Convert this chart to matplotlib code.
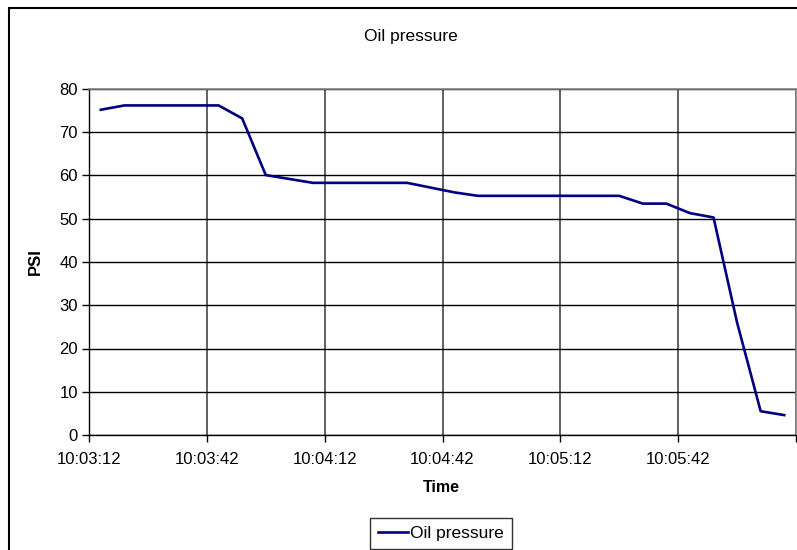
import matplotlib
matplotlib.use('Agg')
import matplotlib.pyplot as plt
from matplotlib.patches import Rectangle

# data (sample times and PSI)
times = ['10:03:15', '10:03:21', '10:03:27', '10:03:33', '10:03:39', '10:03:45',
         '10:03:51', '10:03:57', '10:04:03', '10:04:09', '10:04:15', '10:04:21',
         '10:04:27', '10:04:33', '10:04:39', '10:04:45', '10:04:51', '10:04:57',
         '10:05:03', '10:05:09', '10:05:15', '10:05:21', '10:05:27', '10:05:33',
         '10:05:39', '10:05:45', '10:05:51', '10:05:57', '10:06:03', '10:06:09']
psi = [75.2, 76.2, 76.2, 76.2, 76.2, 76.2,
       73.2, 60.1, 59.2, 58.3, 58.3, 58.3,
       58.3, 58.3, 57.2, 56.1, 55.3, 55.3,
       55.3, 55.3, 55.3, 55.3, 55.3, 53.5,
       53.5, 51.3, 50.3, 26.0, 5.5, 4.6]
tick_labels = ['10:03:12', '10:03:42', '10:04:12', '10:04:42', '10:05:12', '10:05:42']
y_ticks = [0, 10, 20, 30, 40, 50, 60, 70, 80]


def to_sec(s):
    h, m, sec = [int(v) for v in s.split(':')]
    return h * 3600 + m * 60 + sec


t0 = to_sec(tick_labels[0])
x = [to_sec(s) - t0 for s in times]
x_ticks = [to_sec(s) - t0 for s in tick_labels]

plt.rcParams['font.family'] = ['Liberation Sans', 'DejaVu Sans']

W, H = 797, 550
fig = plt.figure(figsize=(W / 100, H / 100), dpi=100)
fig.patch.set_facecolor('white')

# outer chart border (cropped at right and bottom)
fig.patches.append(Rectangle((9 / W, -0.1), 1.2, 1 - 7.5 / H + 0.1,
                             transform=fig.transFigure, fill=False,
                             edgecolor='black', lw=1.5))

ax = fig.add_axes([89 / W, 1 - 435 / H, (796 - 89) / W, (435 - 89) / H])
ax.plot(x, psi, color='#000080', lw=1.9, label='Oil pressure', zorder=3)

ax.set_xlim(0, 180)
ax.set_ylim(0, 80)
ax.set_xticks(x_ticks + [180])
ax.set_xticklabels(tick_labels + [''])
ax.set_yticks(y_ticks)

ax.grid(axis='y', color='black', lw=1.0)
ax.grid(axis='x', color='#555555', lw=1.3)
ax.set_axisbelow(True)

for side in ['top', 'right']:
    ax.spines[side].set_color('#808080')
    ax.spines[side].set_linewidth(1.2)
for side in ['left', 'bottom']:
    ax.spines[side].set_color('black')
    ax.spines[side].set_linewidth(1.0)

ax.tick_params(axis='both', direction='out', length=5, width=1, color='black',
               labelsize=12)
ax.tick_params(axis='y', pad=3)
ax.tick_params(axis='x', pad=7)

fig.text(411 / W, 1 - 37 / H, 'Oil pressure', ha='center', va='center', fontsize=12.5)
fig.text(441 / W, 1 - 488 / H, 'Time', ha='center', va='center', fontsize=11.5,
         fontweight='bold')
fig.text(35 / W, 1 - 262 / H, 'PSI', ha='center', va='center', fontsize=12,
         fontweight='bold', rotation=90)

leg = ax.legend(loc='upper center', bbox_to_anchor=(441 / W, 1 - 518 / H),
                bbox_transform=fig.transFigure, frameon=True, fancybox=False,
                fontsize=12.5, handlelength=1.75, handletextpad=0.1,
                borderpad=0.45, borderaxespad=0)
leg.get_frame().set_edgecolor('black')
leg.get_frame().set_linewidth(1.0)

fig.savefig('out.png', dpi=100, facecolor='white')
